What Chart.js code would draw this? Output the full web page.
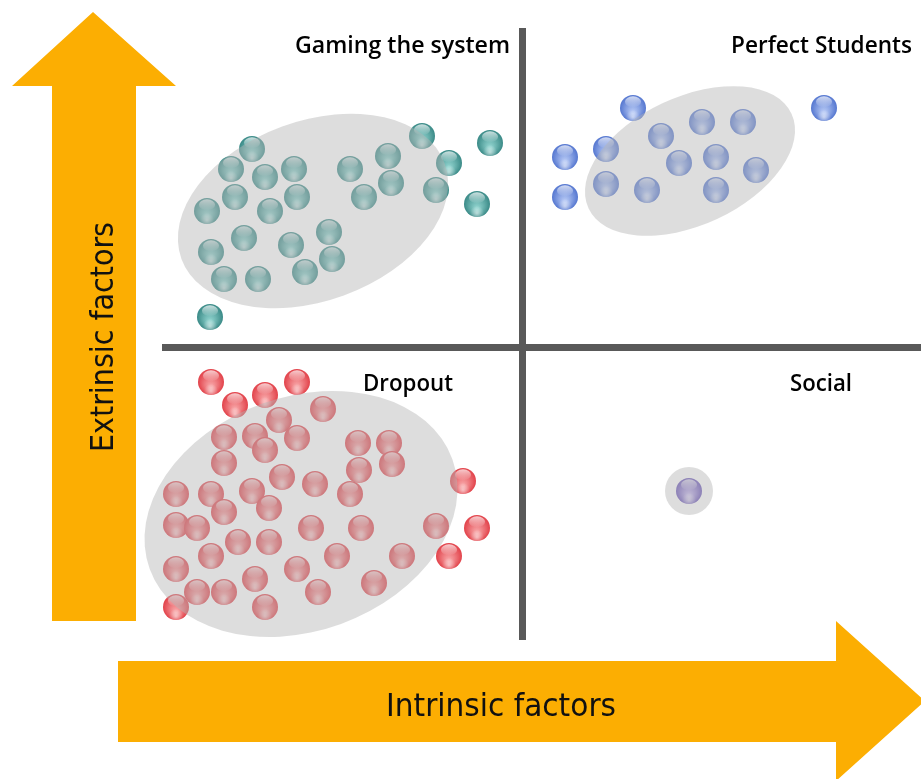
<!DOCTYPE html>
<html>
<head>
<meta charset="utf-8">
<script src="https://cdn.jsdelivr.net/npm/chart.js@4.4.1/dist/chart.umd.min.js"></script>
<style>
  html, body { margin: 0; padding: 0; background: #fff; }
  canvas { display: block; }
</style>
</head>
<body>
<canvas id="quadrantChart" width="921" height="779"></canvas>
<script>
// students placed on intrinsic (x) / extrinsic (y) axes
const gamingX = [252, 231, 265, 294, 235, 297, 207, 270, 244, 291, 329, 211, 332, 224, 258, 305, 210, 350, 388, 364, 391, 422, 449, 436, 490, 477];
const gamingY = [149, 169, 177, 169, 197, 197, 211, 211, 238, 245, 232, 252, 259, 279, 279, 272, 317, 169, 156, 197, 183, 136, 163, 190, 143, 204];

const perfectX = [633, 824, 702, 743, 661, 606, 565, 716, 679, 756, 606, 647, 716, 565];
const perfectY = [108, 108, 122, 122, 136, 149, 157, 157, 163, 170, 184, 190, 190, 197];

const dropoutX = [211, 297, 265, 235, 323, 279, 224, 255, 297, 265, 358, 389, 224, 359, 392, 282, 315, 463, 176, 211, 252, 350, 224, 269, 176, 197, 311, 361, 436, 477, 238, 269, 211, 337, 402, 449, 176, 297, 255, 197, 224, 318, 374, 176, 265];
const dropoutY = [382, 382, 395, 405, 409, 420, 437, 436, 438, 450, 443, 443, 463, 470, 464, 477, 484, 481, 494, 494, 491, 494, 512, 508, 525, 528, 528, 528, 526, 528, 542, 542, 556, 556, 556, 556, 569, 569, 579, 592, 592, 592, 583, 607, 607];

const socialX = [689];
const socialY = [491];

const quadrantLabels = ['Gaming the system', 'Perfect Students', 'Dropout', 'Social'];
const axisLabels = ['Intrinsic factors', 'Extrinsic factors'];

// cluster outlines (centre, radii, tilt) in the same units
const clusters = [
    { cx: 313, cy: 211, rx: 140, ry: 90, rot: -20 },
    { cx: 690, cy: 161, rx: 112, ry: 64, rot: -25 },
    { cx: 301, cy: 514, rx: 161, ry: 117, rot: -20 },
    { cx: 689, cy: 491, rx: 24, ry: 24, rot: 0 }
];

function toPoints(xs, ys) {
    return xs.map((x, i) => ({ x: x, y: ys[i] }));
}

// glassy marble used as the point style
function makeBall(dark, light, r) {
    const c = document.createElement('canvas');
    c.width = c.height = r * 2 + 2;
    const g = c.getContext('2d');
    const cx = r + 1, cy = r + 1;

    const body = g.createRadialGradient(cx, cy + r * 0.35, r * 0.1, cx, cy, r);
    body.addColorStop(0, light);
    body.addColorStop(1, dark);
    g.fillStyle = body;
    g.beginPath();
    g.arc(cx, cy, r, 0, Math.PI * 2);
    g.fill();

    const glow = g.createRadialGradient(cx, cy + r * 0.7, 0, cx, cy + r * 0.7, r * 0.55);
    glow.addColorStop(0, 'rgba(255,255,255,0.55)');
    glow.addColorStop(1, 'rgba(255,255,255,0)');
    g.fillStyle = glow;
    g.beginPath();
    g.arc(cx, cy, r, 0, Math.PI * 2);
    g.fill();

    const gloss = g.createLinearGradient(0, cy - r, 0, cy - r * 0.1);
    gloss.addColorStop(0, 'rgba(255,255,255,0.8)');
    gloss.addColorStop(1, 'rgba(255,255,255,0.05)');
    g.fillStyle = gloss;
    g.beginPath();
    g.ellipse(cx, cy - r * 0.48, r * 0.62, r * 0.42, 0, 0, Math.PI * 2);
    g.fill();
    return c;
}

const R = 13;
const tealBall = makeBall('#3a8a87', '#8fd2cd', R);
const blueBall = makeBall('#5577d0', '#b4c7f4', R);
const redBall = makeBall('#e2424a', '#f7a3a5', R);
const purpleBall = makeBall('#6a55b8', '#c6b8ee', R);

const ORANGE = '#fcae02';

// text squeezed/stretched horizontally to a given width
function fitText(ctx, text, x, y, width, font, rot) {
    ctx.save();
    ctx.font = font;
    const w = ctx.measureText(text).width;
    ctx.translate(x, y);
    if (rot) ctx.rotate(rot);
    ctx.scale(width / w, 1);
    ctx.textAlign = 'left';
    ctx.textBaseline = 'alphabetic';
    ctx.fillText(text, 0, 0);
    ctx.restore();
}

const backdrop = {
    id: 'backdrop',
    beforeDatasetsDraw(chart) {
        const { ctx, scales: { x, y } } = chart;
        const px = v => x.getPixelForValue(v);
        const py = v => y.getPixelForValue(v);
        ctx.save();
        ctx.fillStyle = ORANGE;

        // up arrow (extrinsic)
        ctx.beginPath();
        ctx.moveTo(px(93), py(12));
        ctx.lineTo(px(176), py(86));
        ctx.lineTo(px(136), py(86));
        ctx.lineTo(px(136), py(621));
        ctx.lineTo(px(52), py(621));
        ctx.lineTo(px(52), py(86));
        ctx.lineTo(px(12), py(86));
        ctx.closePath();
        ctx.fill();

        // right arrow (intrinsic)
        ctx.beginPath();
        ctx.moveTo(px(118), py(661));
        ctx.lineTo(px(836), py(661));
        ctx.lineTo(px(836), py(621));
        ctx.lineTo(px(925), py(701));
        ctx.lineTo(px(836), py(781));
        ctx.lineTo(px(836), py(742));
        ctx.lineTo(px(118), py(742));
        ctx.closePath();
        ctx.fill();

        // quadrant dividers
        ctx.fillStyle = '#595959';
        ctx.fillRect(px(519), py(28), 7, py(640) - py(28));
        ctx.fillRect(px(162), py(344), px(921) - px(162), 7);
        ctx.restore();
    },
    afterDatasetsDraw(chart) {
        const { ctx, scales: { x, y } } = chart;
        const px = v => x.getPixelForValue(v);
        const py = v => y.getPixelForValue(v);
        ctx.save();
        ctx.fillStyle = 'rgba(180,180,180,0.46)';
        clusters.forEach(c => {
            ctx.beginPath();
            ctx.ellipse(px(c.cx), py(c.cy), c.rx, c.ry, c.rot * Math.PI / 180, 0, Math.PI * 2);
            ctx.fill();
        });

        ctx.fillStyle = '#000';
        const qFont = '600 24px "Open Sans"';
        fitText(ctx, quadrantLabels[0], px(295), py(53), 215, qFont);
        fitText(ctx, quadrantLabels[1], px(731), py(53), 181, qFont);
        fitText(ctx, quadrantLabels[2], px(363), py(391), 90, qFont);
        fitText(ctx, quadrantLabels[3], px(790), py(391), 62, qFont);

        ctx.fillStyle = '#111';
        const aFont = '32px "DejaVu Sans"';
        fitText(ctx, axisLabels[0], px(386), py(716), 230, aFont);
        fitText(ctx, axisLabels[1], px(113), py(452), 230, aFont, -Math.PI / 2);
        ctx.restore();
    }
};

const quadrantChart = new Chart(document.getElementById('quadrantChart').getContext('2d'), {
    type: 'scatter',
    data: {
        datasets: [
            { label: 'Gaming the system', data: toPoints(gamingX, gamingY), pointStyle: tealBall, radius: R },
            { label: 'Perfect Students', data: toPoints(perfectX, perfectY), pointStyle: blueBall, radius: R },
            { label: 'Dropout', data: toPoints(dropoutX, dropoutY), pointStyle: redBall, radius: R },
            { label: 'Social', data: toPoints(socialX, socialY), pointStyle: purpleBall, radius: R }
        ]
    },
    options: {
        responsive: false,
        animation: false,
        events: [],
        layout: { padding: 0, autoPadding: false },
        plugins: { legend: { display: false }, tooltip: { enabled: false } },
        scales: {
            x: { type: 'linear', min: 0, max: 921, display: false },
            y: { type: 'linear', min: 0, max: 779, reverse: true, display: false }
        }
    },
    plugins: [backdrop]
});
</script>
</body>
</html>
